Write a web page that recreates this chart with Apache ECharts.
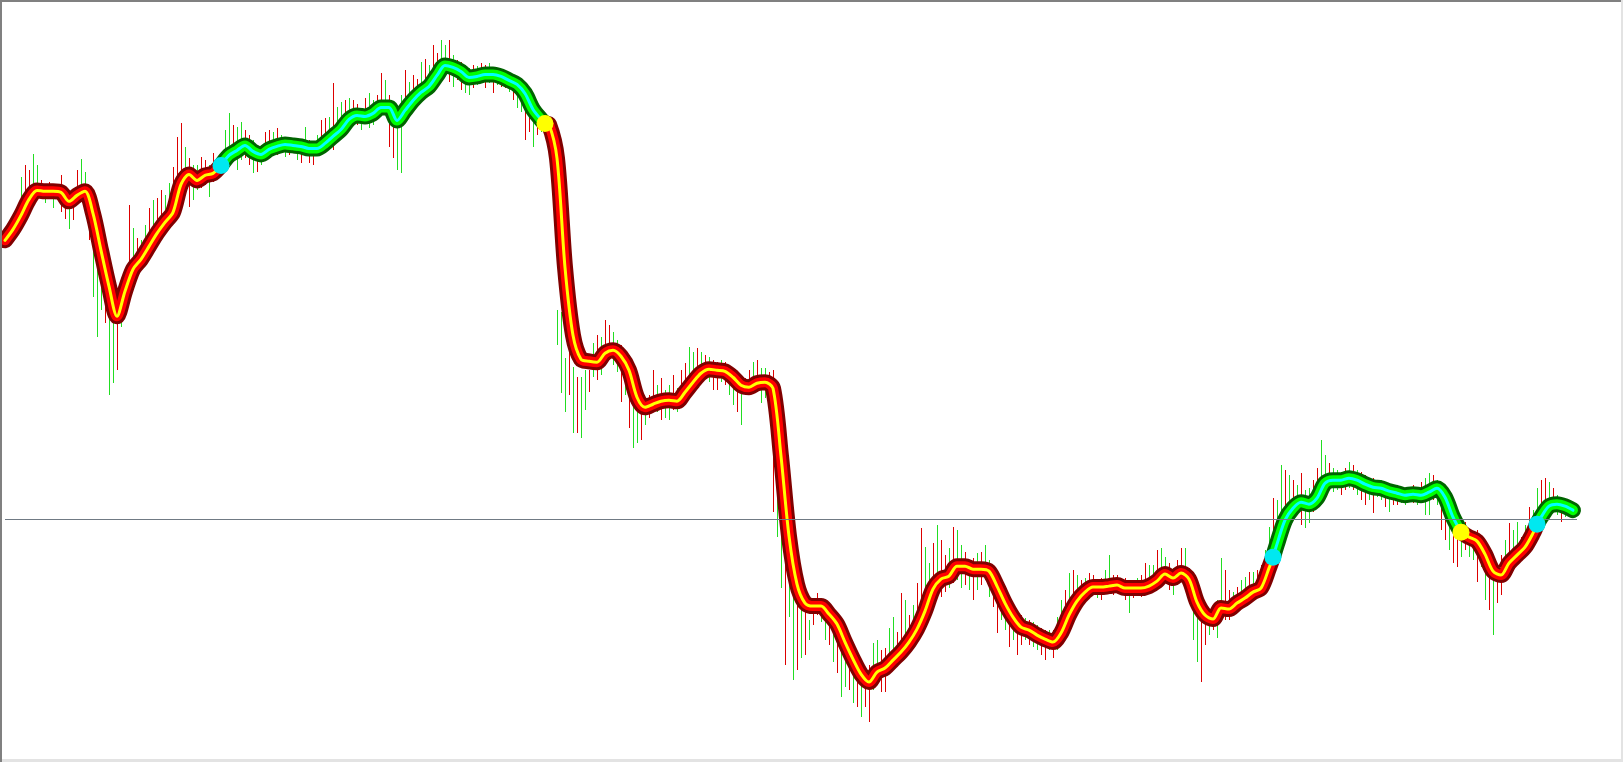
<!DOCTYPE html>
<html>
<head>
<meta charset="utf-8">
<script src="https://cdn.jsdelivr.net/npm/echarts@6/dist/echarts.min.js"></script>
<style>
html,body{margin:0;padding:0;background:#fff;}
#chart{width:1623px;height:762px;}
</style>
</head>
<body>
<div id="chart"></div>
<script>
// Smoothed trend line, one value every 2 bars (bar index = 2*k)
const lineVals = [
13279,13290,13304,13320,13329,13328,13328,13327,13318,13324,
13328,13306,13269,13233,13203,13228,13250,13260,13273,13286,
13297,13307,13335,13345,13339,13344,13346,13354,13364,13369,
13374,13368,13365,13370,13373,13375,13374,13373,13371,13371,
13376,13383,13390,13400,13404,13403,13406,13412,13412,13399,
13409,13419,13427,13433,13444,13454,13452,13448,13442,13443,
13445,13445,13443,13439,13435,13426,13410,13400,13395,13361,
13252,13184,13160,13158,13157,13166,13169,13163,13149,13122,
13112,13115,13118,13119,13118,13127,13137,13146,13150,13149,
13148,13142,13134,13132,13136,13137,13131,13063,12983,12935,
12916,12913,12913,12905,12895,12877,12860,12845,12837,12847,
12851,12859,12867,12877,12890,12908,12930,12940,12943,12953,
12953,12950,12950,12948,12933,12916,12902,12892,12889,12884,
12880,12877,12886,12904,12918,12927,12932,12932,12933,12934,
12931,12931,12931,12933,12938,12945,12941,12946,12940,12917,
12904,12900,12911,12910,12916,12921,12927,12931,12951,12975,
12999,13011,13017,13015,13021,13036,13039,13039,13041,13039,
13035,13032,13031,13028,13026,13024,13025,13024,13027,13031,
13022,13002,12987,12982,12978,12965,12948,12944,12956,12964,
12972,12986,13002,13013,13015,13013,13009
];

// Price bars (one per bar index)
const barHigh = [
13287,13291,13297,13304,13342,13354,13349,13365,13354,13339,
13333,13337,13331,13335,13344,13329,13327,13329,13349,13360,
13347,13334,13314,13299,13279,13264,13244,13229,13219,13229,
13249,13314,13291,13281,13279,13294,13311,13319,13321,13329,
13324,13336,13352,13382,13396,13372,13361,13354,13354,13362,
13359,13354,13366,13359,13364,13389,13406,13394,13392,13397,
13389,13384,13379,13374,13374,13387,13389,13387,13391,13384,
13381,13382,13381,13379,13379,13392,13379,13377,13384,13399,
13401,13402,13436,13412,13417,13419,13421,13419,13415,13411,
13421,13426,13419,13424,13446,13439,13424,13414,13409,13424,
13449,13437,13444,13440,13457,13460,13454,13474,13466,13479,
13474,13479,13464,13459,13457,13454,13451,13454,13453,13456,
13454,13456,13452,13451,13449,13447,13446,13443,13441,13434,
13429,13419,13414,13407,13404,13401,13399,13391,13209,13207,
13161,13184,13152,13142,13142,13149,13149,13176,13184,13182,
13199,13194,13187,13179,13174,13164,13157,13149,13134,13124,
13121,13124,13149,13134,13141,13129,13134,13144,13131,13149,
13156,13172,13167,13171,13167,13164,13162,13159,13157,13159,
13157,13154,13151,13147,13144,13141,13149,13157,13159,13151,
13151,13147,13149,13099,13079,13039,12999,12979,12949,12939,
12929,12899,12921,12926,12921,12914,12911,12907,12904,12891,
12889,12879,12869,12864,12859,12847,12854,12876,12879,12869,
12871,12891,12902,12887,12926,12919,12904,12914,12936,12991,
12972,12956,12976,12994,12979,12964,12971,12992,12989,12974,
12967,12959,12961,12966,12967,12974,12959,12954,12944,12934,
12929,12924,12914,12909,12904,12901,12899,12897,12894,12891,
12889,12889,12889,12902,12919,12929,12946,12949,12944,12939,
12941,12946,12944,12939,12941,12949,12964,12944,12944,12941,
12941,12937,12939,12941,12944,12956,12954,12954,12969,12971,
12962,12956,12951,12959,12971,12971,12951,12944,12929,12924,
12914,12909,12914,12919,12961,12949,12929,12927,12932,12939,
12942,12947,12947,12949,12954,12969,12992,13021,13019,13054,
13049,13044,13039,13034,13046,13029,13031,13039,13051,13079,
13064,13056,13051,13049,13047,13051,13057,13054,13049,13047,
13044,13041,13041,13039,13039,13037,13036,13034,13032,13031,
13031,13032,13034,13032,13037,13041,13046,13044,13039,13029,
13024,13019,13009,13004,12999,12997,12989,12984,12989,12984,
12979,12971,12959,12954,12964,12979,12996,12989,12997,12982,
12994,13012,13009,13031,13039,13041,13037,13031,13024,13021,
13019,13017,13014
];
const barLow = [
13272,13277,13283,13289,13304,13314,13316,13321,13322,13320,
13316,13320,13311,13319,13307,13300,13290,13299,13319,13322,
13314,13279,13222,13182,13209,13196,13124,13136,13149,13192,
13209,13229,13239,13244,13251,13257,13264,13274,13277,13289,
13291,13295,13304,13309,13329,13331,13312,13319,13329,13331,
13334,13322,13337,13341,13347,13351,13359,13357,13349,13359,
13361,13354,13346,13347,13354,13359,13362,13363,13364,13367,
13362,13364,13367,13359,13356,13364,13356,13354,13364,13364,
13369,13371,13369,13379,13384,13389,13394,13397,13394,13389,
13397,13391,13394,13401,13404,13407,13372,13361,13349,13346,
13401,13404,13411,13414,13421,13424,13427,13431,13437,13443,
13447,13437,13432,13439,13429,13426,13424,13431,13434,13437,
13431,13436,13426,13434,13432,13431,13427,13419,13411,13407,
13379,13387,13372,13384,13387,13386,13384,13379,13174,13126,
13107,13124,13086,13086,13081,13109,13127,13142,13139,13144,
13154,13159,13154,13147,13117,13124,13091,13071,13076,13079,
13094,13101,13107,13107,13099,13101,13099,13109,13107,13114,
13121,13127,13134,13141,13139,13144,13137,13129,13129,13137,
13134,13124,13114,13107,13094,13124,13126,13129,13127,13116,
13121,13124,13007,12982,12931,12854,12902,12839,12849,12861,
12864,12879,12894,12904,12897,12879,12874,12857,12846,12822,
12832,12829,12816,12812,12802,12812,12797,12829,12834,12827,
12827,12847,12854,12857,12861,12864,12869,12874,12884,12899,
12904,12916,12919,12922,12922,12927,12931,12936,12939,12931,
12934,12929,12919,12929,12934,12939,12922,12912,12886,12899,
12889,12872,12879,12864,12874,12879,12874,12872,12869,12864,
12859,12869,12861,12869,12879,12889,12899,12909,12911,12919,
12921,12924,12924,12921,12919,12927,12926,12924,12927,12924,
12919,12906,12921,12924,12922,12927,12929,12931,12931,12934,
12936,12929,12924,12934,12937,12934,12919,12879,12857,12837,
12874,12884,12889,12881,12904,12899,12899,12904,12907,12911,
12914,12919,12919,12921,12924,12929,12939,12949,12964,12979,
12992,12999,13004,13009,12994,12991,12996,13007,13014,13019,
13027,13029,13027,13029,13024,13029,13031,13029,13024,13019,
13014,13019,13006,13022,13019,13012,13007,13014,13014,13016,
13014,13017,13016,13014,13016,13004,13004,13019,13014,12989,
12979,12969,12956,12952,12962,12969,12962,12959,12937,12952,
12919,12909,12884,12916,12924,12939,12949,12954,12959,12959,
12967,12974,12979,12989,12999,13007,13009,13007,13004,12997,
13002,13002,13005
];
// 1 = bullish bar (green), 0 = bearish bar (red)
const barUp = [
0,1,1,0,1,0,0,1,1,0, 1,0,1,1,0,0,1,0,0,1, 1,0,1,1,1,0,1,1,0,1, 0,0,1,0,1,1,0,1,0,0,
1,1,0,0,0,1,0,1,1,0, 0,1,0,1,0,1,1,0,1,1, 0,0,1,0,1,0,0,1,0,1, 1,0,0,1,0,1,0,0,1,0,
0,1,0,1,1,0,1,0,0,1, 0,1,1,0,0,1,0,0,1,1, 0,1,0,0,1,0,1,0,0,1, 1,0,1,0,0,1,1,0,1,0,
0,1,0,1,0,0,1,0,1,1, 0,0,1,0,1,0,0,1,1,1, 1,0,1,0,1,1,0,1,0,1, 0,0,1,1,0,1,0,1,1,0,
1,0,0,1,0,1,1,0,1,0, 0,1,1,0,1,0,1,0,0,1, 0,1,1,0,1,0,0,1,0,1, 1,0,0,1,1,0,1,1,0,1,
0,1,0,0,1,1,0,1,0,1, 1,0,1,0,1,0,0,1,1,0, 0,1,1,0,0,1,0,1,0,0, 1,1,0,1,0,0,1,0,1,1,
0,1,0,1,0,1,1,0,0,1, 1,0,1,0,0,1,0,1,1,0, 0,1,0,1,1,0,1,0,1,0, 1,0,0,1,0,1,1,0,0,1,
0,1,0,1,0,0,1,1,0,1, 1,0,1,0,0,1,0,1,1,0, 0,1,0,1,1,0,0,1,0,1, 1,0,1,0,0,1,1,0,1,1,
0,1,0,1,0,1,1,0,0,1, 1,0,1,1,0,0,1,0,1,0, 0,1,0,1,1,0,1,0,0,1, 1,0,0,1,0,1,1,0,1,0,
0,1,0,0,1,0,1,1,0,1, 1,0,1,0,0,1,0,1,1,0, 1,0,1,1,0,0,1,0,1,0, 1,0,1
];

// Trend-change signals: bar index, price, kind
const sigBar  = [54, 135, 317, 364, 383];
const sigVal  = [13354, 13396, 12962, 12987, 12995];
const sigKind = ['up', 'down', 'up', 'down', 'up'];

const levelPrice = 13000;

// ---------- build ----------
const lastBar = (lineVals.length - 1) * 2;
const linePts = lineVals.map((v, k) => [k * 2, v]);
const bounds = [0].concat(sigBar, [lastBar]);
const segments = [];
for (let s = 0; s < bounds.length - 1; s++) {
  const from = bounds[s], to = bounds[s + 1];
  const pts = [];
  pts.push(s === 0 ? linePts[0] : [sigBar[s - 1], sigVal[s - 1]]);
  linePts.forEach(p => { if (p[0] > from && p[0] < to) pts.push(p); });
  pts.push(s === bounds.length - 2 ? linePts[linePts.length - 1] : [sigBar[s], sigVal[s]]);
  const up = s === 0 ? false : sigKind[s - 1] === 'up';
  segments.push({ pts, up });
}

const palette = {
  down: ['#800000', '#FF0000', '#FFFF00'],
  up:   ['#006400', '#00FF00', '#00FFFF']
};
const widths = [16, 10, 3];

const series = [];
series.push({
  type: 'custom',
  z: 1,
  silent: true,
  data: barHigh.map((h, i) => [i, h, barLow[i], barUp[i]]),
  renderItem: function (params, api) {
    const top = api.coord([api.value(0), api.value(1)]);
    const bot = api.coord([api.value(0), api.value(2)]);
    return {
      type: 'rect',
      shape: { x: Math.round(top[0]), y: Math.round(top[1]), width: 1, height: Math.max(1, Math.round(bot[1] - top[1])) },
      style: { fill: api.value(3) ? '#22DD22' : '#DD0000' }
    };
  },
  markLine: {
    silent: true,
    symbol: 'none',
    label: { show: false },
    lineStyle: { color: '#707A84', width: 1, type: 'solid', opacity: 1 },
    data: [{ yAxis: levelPrice }]
  }
});

for (let layer = 0; layer < 3; layer++) {
  segments.forEach(seg => {
    series.push({
      type: 'line',
      z: 2 + layer,
      silent: true,
      smooth: 0.3,
      showSymbol: false,
      data: seg.pts,
      lineStyle: {
        color: (seg.up ? palette.up : palette.down)[layer],
        width: widths[layer],
        cap: 'round',
        join: 'round'
      }
    });
  });
}

series.push({
  type: 'scatter',
  z: 6,
  silent: true,
  symbolSize: 17,
  data: sigBar.map((b, i) => ({
    value: [b, sigVal[i]],
    itemStyle: { color: sigKind[i] === 'up' ? '#00E8F0' : '#FFFF00', opacity: 1 }
  }))
});

const chart = echarts.init(document.getElementById('chart'), null, { renderer: 'canvas' });
chart.setOption({
  animation: false,
  backgroundColor: '#FFFFFF',
  grid: { left: 5, right: 46, top: 0.5, bottom: -0.5 },
  xAxis: { type: 'value', min: 0, max: 393, show: false },
  yAxis: { type: 'value', min: 12757, max: 13519, show: false },
  graphic: [
    { type: 'rect', shape: { x: 0, y: 0, width: 1623, height: 2 }, style: { fill: '#808080' }, z: 10 },
    { type: 'rect', shape: { x: 0, y: 0, width: 2, height: 762 }, style: { fill: '#808080' }, z: 10 },
    { type: 'rect', shape: { x: 1621, y: 0, width: 2, height: 762 }, style: { fill: '#E3E3E3' }, z: 10 },
    { type: 'rect', shape: { x: 2, y: 759, width: 1621, height: 3 }, style: { fill: '#E3E3E3' }, z: 10 }
  ],
  series: series
});
</script>
</body>
</html>
